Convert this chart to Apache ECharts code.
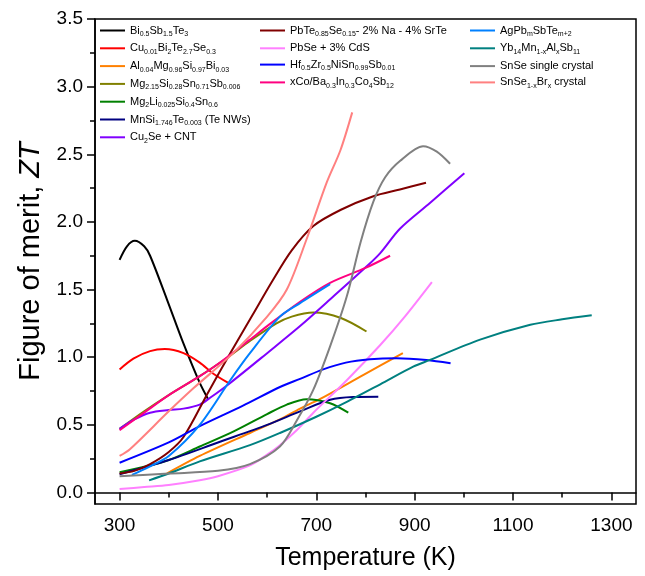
<!DOCTYPE html>
<html>
<head>
<meta charset="utf-8">
<script src="https://cdn.jsdelivr.net/npm/echarts@6/dist/echarts.min.js"></script>
<style>
html, body { margin: 0; padding: 0; background: #fff; }
#chart { width: 645px; height: 576px; }
</style>
</head>
<body>
<div id="chart"></div>
<script>
// ZT vs temperature
var biSbTe = [[300,1.72],[315,1.82],[331,1.86],[350,1.82],[362,1.75],[396,1.43],[430,1.10],[463,0.81],[480,0.69]];
var cuBiTeSe = [[300,0.91],[328,0.99],[362,1.045],[392,1.06],[430,1.03],[463,0.96],[490,0.88],[521,0.81]];
var alMgSiBi = [[396,0.14],[463,0.27],[565,0.44],[626,0.54],[667,0.62],[707,0.69],[796,0.87],[876,1.03]];
var mgSiSnSb = [[300,0.47],[350,0.6],[400,0.72],[463,0.86],[520,1.0],[565,1.12],[619,1.25],[650,1.3],[694,1.33],[750,1.29],[802,1.19]];
var mgLiSiSn = [[300,0.15],[350,0.19],[400,0.24],[463,0.34],[531,0.45],[600,0.58],[640,0.65],[680,0.69],[728,0.66],[765,0.59]];
var mnSiTe = [[300,0.135],[400,0.24],[500,0.37],[600,0.5],[667,0.6],[728,0.685],[775,0.705],[826,0.707]];
var cu2seCnt = [[300,0.47],[330,0.54],[362,0.59],[400,0.61],[430,0.62],[463,0.65],[484,0.70],[525,0.81],[600,1.03],[667,1.23],[735,1.45],[802,1.67],[830,1.77],[870,1.95],[931,2.14],[1001,2.36]];
var pbTeSe = [[300,0.14],[330,0.16],[362,0.21],[400,0.3],[430,0.41],[480,0.74],[525,1.03],[570,1.31],[610,1.56],[650,1.79],[694,1.97],[750,2.09],[816,2.19],[870,2.24],[923,2.29]];
var pbSeCdS = [[300,0.025],[350,0.04],[400,0.055],[463,0.09],[500,0.12],[565,0.2],[600,0.28],[626,0.35],[660,0.46],[694,0.59],[762,0.83],[830,1.09],[880,1.3],[935,1.555]];
var hfZrNiSn = [[300,0.22],[400,0.37],[463,0.49],[550,0.64],[626,0.78],[667,0.84],[714,0.91],[760,0.96],[809,0.985],[863,0.993],[924,0.98],[973,0.956]];
var coBaInSb = [[300,0.46],[350,0.59],[400,0.72],[463,0.86],[500,0.95],[565,1.13],[600,1.23],[667,1.41],[728,1.55],[800,1.66],[850,1.75]];
var agPbSbTe = [[325,0.13],[360,0.19],[400,0.27],[463,0.5],[525,0.83],[565,1.03],[626,1.3],[667,1.4],[728,1.54]];
var ybMnAlSb = [[360,0.09],[400,0.14],[463,0.23],[565,0.35],[626,0.44],[700,0.56],[762,0.67],[830,0.8],[897,0.93],[931,0.98],[1033,1.13],[1135,1.24],[1200,1.28],[1260,1.31]];
var snSe = [[300,0.12],[400,0.14],[500,0.16],[565,0.21],[626,0.34],[660,0.53],[694,0.76],[728,1.08],[762,1.45],[790,1.85],[816,2.15],[840,2.33],[870,2.45],[917,2.56],[945,2.52],[972,2.43]];
var snSeBr = [[300,0.27],[321,0.32],[400,0.6],[450,0.77],[531,1.03],[600,1.3],[640,1.5],[680,1.87],[721,2.29],[749,2.53],[773,2.81]];

var xMajor = [300, 500, 700, 900, 1100, 1300];
var xMinor = [400, 600, 800, 1000, 1200];
var yMajor = [0, 0.5, 1.0, 1.5, 2.0, 2.5, 3.0, 3.5];
var yMinor = [0.25, 0.75, 1.25, 1.75, 2.25, 2.75, 3.25];

// legend text with subscripts
var names = [
    ['bi', '{n|Bi}{s|0.5}{n|Sb}{s|1.5}{n|Te}{s|3}', '#000000', biSbTe],
    ['cu', '{n|Cu}{s|0.01}{n|Bi}{s|2}{n|Te}{s|2.7}{n|Se}{s|0.3}', '#ff0000', cuBiTeSe],
    ['al', '{n|Al}{s|0.04}{n|Mg}{s|0.96}{n|Si}{s|0.97}{n|Bi}{s|0.03}', '#ff8000', alMgSiBi],
    ['mgsn', '{n|Mg}{s|2.15}{n|Si}{s|0.28}{n|Sn}{s|0.71}{n|Sb}{s|0.006}', '#808000', mgSiSnSb],
    ['mgli', '{n|Mg}{s|2}{n|Li}{s|0.025}{n|Si}{s|0.4}{n|Sn}{s|0.6}', '#008000', mgLiSiSn],
    ['mn', '{n|MnSi}{s|1.746}{n|Te}{s|0.003}{n| (Te NWs)}', '#000080', mnSiTe],
    ['cnt', '{n|Cu}{s|2}{n|Se + CNT}', '#8000ff', cu2seCnt],
    ['pbte', '{n|PbTe}{s|0.85}{n|Se}{s|0.15}{n|- 2% Na - 4% SrTe}', '#800000', pbTeSe],
    ['pbse', '{n|PbSe + 3% CdS}', '#ff80ff', pbSeCdS],
    ['hf', '{n|Hf}{s|0.5}{n|Zr}{s|0.5}{n|NiSn}{s|0.99}{n|Sb}{s|0.01}', '#0000ff', hfZrNiSn],
    ['co', '{n|xCo/Ba}{s|0.3}{n|In}{s|0.3}{n|Co}{s|4}{n|Sb}{s|12}', '#ff0080', coBaInSb],
    ['ag', '{n|AgPb}{s|m}{n|SbTe}{s|m+2}', '#0080ff', agPbSbTe],
    ['yb', '{n|Yb}{s|14}{n|Mn}{s|1-x}{n|Al}{s|x}{n|Sb}{s|11}', '#008080', ybMnAlSb],
    ['snse', '{n|SnSe single crystal}', '#808080', snSe],
    ['snbr', '{n|SnSe}{s|1-x}{n|Br}{s|x}{n| crystal}', '#ff8080', snSeBr]
];

var labelMap = {};
var series = [];
names.forEach(function(item){
    labelMap[item[0]] = item[1];
    series.push({
        name: item[0],
        type: 'line',
        data: item[3],
        smooth: 0.3,
        symbol: 'none',
        lineStyle: { color: item[2], width: 2 },
        itemStyle: { color: item[2] }
    });
});

var FONT = 'Liberation Sans, Arial, sans-serif';

function legendBox(list, left){
    return {
        data: list,
        orient: 'vertical',
        left: left,
        top: 25,
        icon: 'rect',
        itemWidth: 25,
        itemHeight: 2,
        itemGap: 5.3,
        padding: 0,
        formatter: function(name){ return labelMap[name]; },
        textStyle: {
            fontFamily: FONT,
            rich: {
                n: { fontSize: 11, lineHeight: 14, color: '#000', fontFamily: FONT },
                s: { fontSize: 7, lineHeight: 7, verticalAlign: 'bottom', color: '#000', fontFamily: FONT }
            }
        }
    };
}

var chart = echarts.init(document.getElementById('chart'));
chart.setOption({
    animation: false,
    backgroundColor: '#fff',
    grid: {
        left: 95, right: 9, top: 19, bottom: 72,
        show: true, borderColor: '#000', borderWidth: 1.5,
        outerBoundsMode: 'none'
    },
    legend: [
        legendBox(['bi','cu','al','mgsn','mgli','mn','cnt'], 100),
        legendBox(['pbte','pbse','hf','co'], 260),
        legendBox(['ag','yb','snse','snbr'], 470)
    ],
    xAxis: [{
        type: 'value', min: 250, max: 1350,
        name: 'Temperature (K)', nameLocation: 'middle', nameGap: 42,
        nameTextStyle: { fontSize: 25, fontFamily: FONT, color: '#000' },
        axisLine: { lineStyle: { color: '#000', width: 1.5 } },
        axisTick: { customValues: xMajor, length: 8, lineStyle: { color: '#000', width: 1.5 } },
        axisLabel: {
            customValues: xMajor, margin: 12, fontSize: 19, fontFamily: FONT, color: '#000',
            formatter: function(v){ return String(v); }
        },
        splitLine: { show: false }
    }, {
        type: 'value', min: 250, max: 1350, position: 'bottom',
        axisLine: { show: false },
        axisTick: { customValues: xMinor, length: 5, lineStyle: { color: '#000', width: 1.5 } },
        axisLabel: { show: false },
        splitLine: { show: false }
    }],
    yAxis: [{
        type: 'value', min: -0.085, max: 3.5,
        name: 'Figure of merit, {i|ZT}', nameLocation: 'middle', nameGap: 50,
        nameTextStyle: {
            fontSize: 29, fontFamily: FONT, color: '#000',
            rich: { i: { fontSize: 29, fontStyle: 'italic', fontFamily: FONT, color: '#000' } }
        },
        axisLine: { lineStyle: { color: '#000', width: 1.5 } },
        axisTick: { customValues: yMajor, length: 8, lineStyle: { color: '#000', width: 1.5 } },
        axisLabel: {
            customValues: yMajor, margin: 12, fontSize: 19, fontFamily: FONT, color: '#000',
            formatter: function(v){ return v.toFixed(1); }
        },
        splitLine: { show: false }
    }, {
        type: 'value', min: -0.085, max: 3.5, position: 'left',
        axisLine: { show: false },
        axisTick: { customValues: yMinor, length: 5, lineStyle: { color: '#000', width: 1.5 } },
        axisLabel: { show: false },
        splitLine: { show: false }
    }],
    series: series
});
</script>
</body>
</html>
